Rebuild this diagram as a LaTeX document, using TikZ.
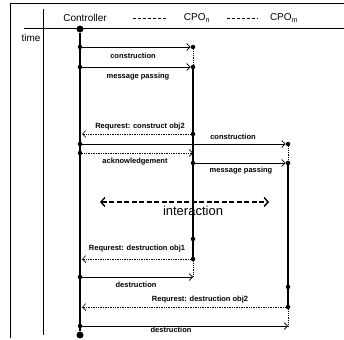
\documentclass[tikz,border=0pt]{standalone}
\usepackage{fontspec}
\setmainfont{Liberation Sans}
\usetikzlibrary{positioning,arrows.meta}

\begin{document}
\begin{tikzpicture}[x=1pt,y=-1pt,
            dot/.style={circle,fill,inner sep=0pt,minimum size=4.5pt},
            bigdot/.style={circle,fill,inner sep=0pt,minimum size=7pt},
            msg/.style={font=\fontsize{7.5}{8}\selectfont\bfseries,inner sep=1pt},
            head/.style={font=\fontsize{10}{12}\selectfont,inner sep=1pt},
            call/.style={-{Straight Barb[length=3.5pt,width=7pt]},line width=0.7pt},
            reply/.style={call,densely dotted},
            life/.style={line width=1.4pt}]
            \useasboundingbox (0,0) rectangle (344,339);

            \draw[line width=0.9pt] (10,338) -- (10,3) -- (344,3);
            \draw[line width=0.8pt] (43,9) -- (43,335);
            \draw[line width=0.9pt] (24,28) -- (344,28);

            \node[head] (ctl) at (85,18) {Controller};
            \node[head] (cpon) at (197,18) {CPO\textsubscript{n}};
            \node[head] (cpom) at (284,18) {CPO\textsubscript{m}};
            \node[head] (time) at (31,38) {time};
            \draw[densely dashed,shorten <=25pt,shorten >=17pt] (ctl) -- (cpon);
            \draw[densely dashed,shorten <=16pt,shorten >=11pt] (cpon) -- (cpom);

            \node[bigdot] (c0) at (80,29) {};
            \node[dot] (c1) at (80,47) {};
            \node[dot] (c2) at (80,67) {};
            \coordinate (c3) at (82,134);
            \node[dot] (c4) at (80,144) {};
            \node[dot] (c5) at (80,153) {};
            \coordinate (c6) at (82,259);
            \node[dot] (c7) at (80,277) {};
            \coordinate (c8) at (82,307);
            \node[dot] (c9) at (80,326) {};
            \node[bigdot] (c10) at (80,335) {};

            \node[dot] (n1) at (193,47) {};
            \node[dot] (n2) at (193,67) {};
            \node[dot] (n3) at (193,134) {};
            \coordinate (n5) at (193,153);
            \node[dot] (n6) at (193,163) {};
            \node[dot] (n7) at (193,239) {};
            \node[dot] (n8) at (193,259) {};
            \coordinate (n9) at (193,277);

            \node[dot] (m1) at (288,144) {};
            \node[dot] (m2) at (288,163) {};
            \node[dot] (m3) at (288,287) {};
            \node[dot] (m4) at (288,307) {};
            \coordinate (m5) at (288,326);

            \draw[line width=2.4pt] (c0) -- (c10);
            \draw[densely dotted,line width=0.8pt] (n1) -- (n2);
            \draw[life] (n2) -- (n8);
            \draw[densely dotted,line width=0.8pt] (n8) -- (n9);
            \draw[densely dotted,line width=0.8pt] (m1) -- (m2);
            \draw[life] (m2) -- (m4);
            \draw[densely dotted,line width=0.8pt] (m4) -- (m5);

            \draw[call] (c1) -- (n1);
            \node[msg] (l1) at (133,56) {construction};
            \draw[call] (c2) -- (n2);
            \node[msg] (l2) at (138,77) {message passing};
            \draw[reply] (n3) -- (c3);
            \node[msg] (l3) at (140,127) {Requrest: construct obj2};
            \draw[call] (c4) -- (m1);
            \node[msg] (l4) at (233,137) {construction};
            \draw[reply] (c5) -- (n5);
            \node[msg] (l5) at (135,162) {acknowledgement};
            \draw[call] (n6) -- (m2);
            \node[msg] (l6) at (241,171) {message passing};
            \draw[reply] (n8) -- (c6);
            \node[msg] (l7) at (137,249) {Requrest: destruction obj1};
            \draw[call] (c7) -- (n9);
            \node[msg] (l8) at (136,285) {destruction};
            \draw[reply] (m4) -- (c8);
            \node[msg] (l9) at (200,300) {Requrest: destruction obj2};
            \draw[call] (c9) -- (m5);
            \node[msg] (l10) at (171,330) {destruction};

            \coordinate (ia) at (100,202);
            \coordinate (ib) at (269,202);
            \draw[dash pattern=on 5pt off 2.5pt,line width=1.4pt,{Straight Barb[length=4pt,width=9pt]}-{Straight Barb[length=4pt,width=9pt]}] (ia) -- (ib);
            \node[font=\fontsize{13}{14}\selectfont] (inter) at (193,211) {interaction};
          \end{tikzpicture}
\end{document}
